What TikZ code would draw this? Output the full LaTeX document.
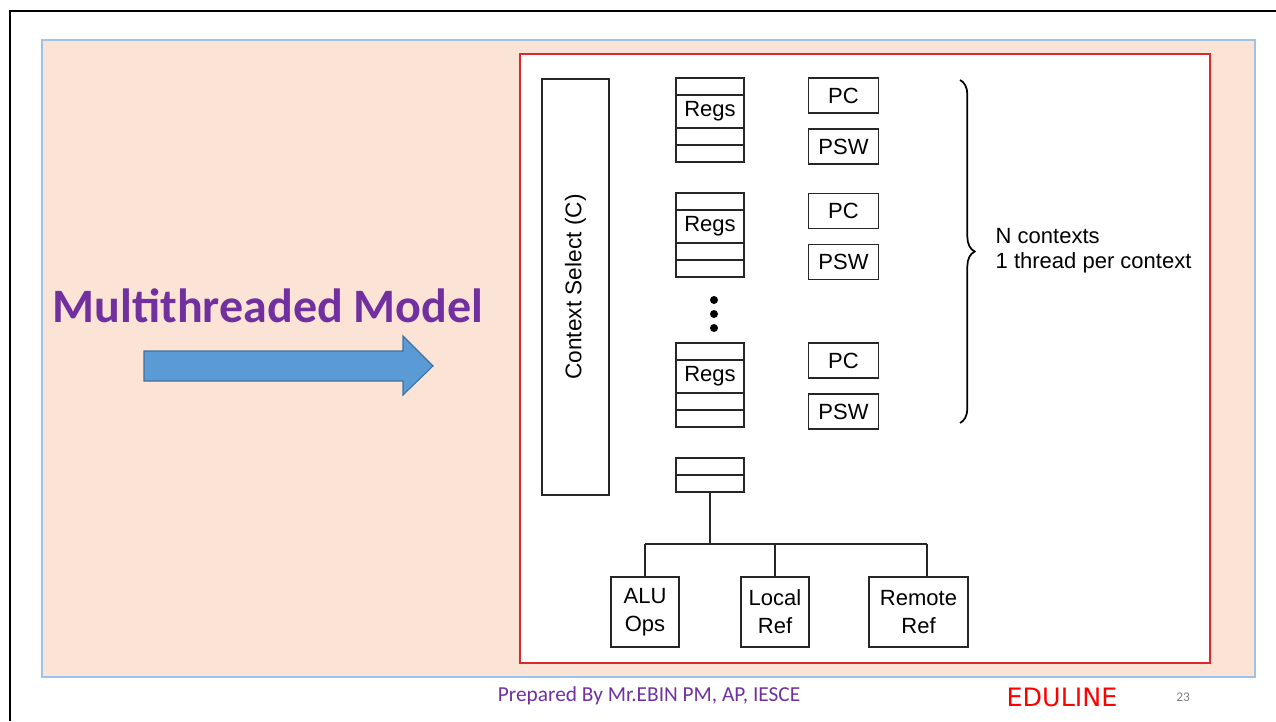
\documentclass[tikz,border=0pt]{standalone}
\usepackage{fontspec}
\setmainfont{Liberation Sans}
\newfontfamily\slidefont{Carlito}
\newfontfamily\logofont{DejaVu Sans}
\usepackage{tikz}
\usetikzlibrary{positioning,decorations.pathreplacing,calc}
\definecolor{slidebg}{HTML}{FBE4D6}
\definecolor{slideedge}{HTML}{9DC3E6}
\definecolor{titlepurple}{HTML}{7030A0}
\definecolor{arrowblue}{HTML}{5B9BD5}
\definecolor{arrowedge}{HTML}{41719C}
\definecolor{figred}{HTML}{E0282C}
\tikzset{
  fig/.style={draw=black!85,line width=1.4pt,inner sep=0pt,outer sep=0pt,
              font=\fontsize{16.5}{21}\selectfont,align=center},
  cell/.style={fig,minimum width=51pt,minimum height=12.75pt},
  regcell/.style={cell,minimum height=24.75pt},
  pbox/.style={fig,minimum width=52.5pt,minimum height=26.25pt},
  ubox/.style={fig,minimum width=51pt,minimum height=52.5pt},
  wire/.style={draw=black!85,line width=1.4pt},
}

\begin{document}
\begin{tikzpicture}[x=0.75pt,y=-0.75pt]
\useasboundingbox (0,0) rectangle (1276,721);
% slide frame
\draw[line width=2.2pt] (10,721) -- (10,11) -- (1276,11);
\draw[fill=slidebg,draw=slideedge,line width=1.1pt] (42,40) rectangle (1255,677);
\draw[fill=white,draw=figred,line width=1.1pt] (520,54) rectangle (1210,663);
% title and arrow
\node[font=\slidefont\bfseries\fontsize{36}{40}\selectfont,text=titlepurple]
  (title) at (268,306) {Multithreaded Model};
\draw[fill=arrowblue,draw=arrowedge,line width=0.8pt]
  (144,351) -- (403,351) -- (403,336) -- (433,366) -- (403,395)
  -- (403,381) -- (144,381) -- cycle;
% context select
\node[fig,rotate=90,minimum width=312pt,minimum height=50.25pt,
      font=\fontsize{17}{20}\selectfont] (csel) at (575.5,287) {Context Select (C)};
% register stacks
\foreach \i/\t in {1/78,2/193,3/343}{
  \node[cell] (s\i-a) at (710,\t+8.5) {};
  \node[regcell,below=0pt of s\i-a] (s\i-b) {Regs};
  \node[cell,below=0pt of s\i-b] (s\i-c) {};
  \node[cell,below=0pt of s\i-c] (s\i-d) {};
}
\foreach \y in {300,314,328}{
  \fill (714,\y) circle (3pt);
}
% PC / PSW
\foreach \i/\y in {1/95.5,2/211,3/360.5}{
  \node[pbox] (pc\i) at (843.5,\y) {PC};
  \node[pbox,below=12pt of pc\i] (psw\i) {PSW};
}
% N contexts brace
\coordinate (brtop) at (960,80);
\coordinate (brbot) at (960,423);
\draw[decorate,decoration={brace,amplitude=11pt},line width=1.3pt] (brtop) -- (brbot);
\node[anchor=west,align=left,font=\fontsize{16.5}{19}\selectfont]
  (ctxnote) at (991,251) {N contexts\\1 thread per context};
% buffer and units
\node[cell] (buf1) at (710,466.5) {};
\node[cell,below=0pt of buf1] (buf2) {};
\node[ubox] (alu) at (645,612) {ALU\\Ops};
\node[ubox] (local) at (775,612) {Local\\Ref};
\node[ubox,minimum width=74.25pt] (remote) at (918.5,612) {Remote\\Ref};
\coordinate (bus) at (710,544);
\coordinate (busL) at (alu.north |- bus);
\coordinate (busR) at (927,544);
\draw[wire] (buf2.south) -- (bus);
\draw[wire] (busL) -- (busR);
\draw[wire] (busL) -- (alu.north);
\draw[wire] (local.north |- bus) -- (local.north);
\draw[wire] (busR) -- (busR |- remote.north);
% footer
\node[font=\slidefont\fontsize{16}{18}\selectfont,text=titlepurple]
  (credit) at (649,696) {Prepared By Mr.EBIN PM, AP, IESCE};
\node[font=\logofont\fontsize{19}{22}\selectfont,text=red] (logo) at (1062,697) {EDULINE};
\node[font=\slidefont\fontsize{10}{12}\selectfont,text=gray] (pageno) at (1183,697) {23};
\end{tikzpicture}
\end{document}
